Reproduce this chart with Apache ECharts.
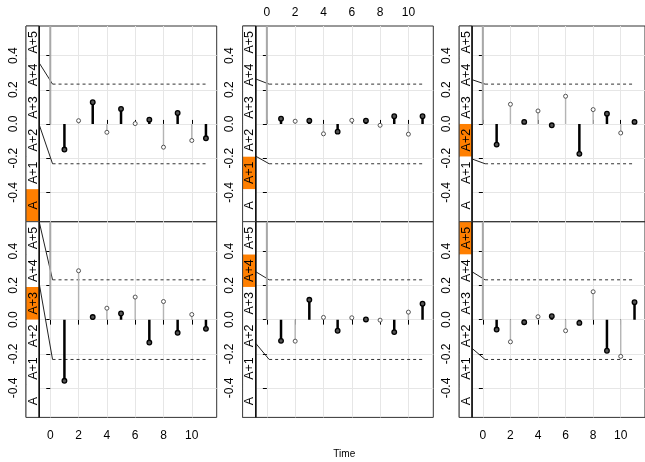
<!DOCTYPE html>
<html><head><meta charset="utf-8">
<script src="https://cdn.jsdelivr.net/npm/echarts@6/dist/echarts.min.js"></script>
<style>html,body{margin:0;padding:0;background:#fff}#c{width:645px;height:462px}</style>
</head><body><div id="c"></div>
<script>
// ---- data ----
const lags = [0,1,2,3,4,5,6,7,8,9,10,11];
const stripLabels = ['A','A+1','A+2','A+3','A+4','A+5'];
const xTickValues = [0,2,4,6,8,10];
const yTickValues = [-0.4,-0.2,0,0.2,0.4];
const acfA  = [1,-0.150,0.019,0.127,-0.049,0.088,0.002,0.025,-0.136,0.064,-0.097,-0.084];
const acfA1 = [1,0.031,0.016,0.019,-0.058,-0.045,0.021,0.019,-0.008,0.045,-0.060,0.045];
const acfA2 = [1,-0.121,0.115,0.012,0.076,-0.008,0.162,-0.175,0.084,0.060,-0.053,0.012];
const acfA3 = [1,-0.358,0.286,0.015,0.067,0.036,0.132,-0.134,0.106,-0.077,0.030,-0.054];
const acfA4 = [1,-0.124,-0.126,0.116,0.013,-0.065,0.011,0.001,-0.003,-0.073,0.044,0.093];
const acfA5 = [1,-0.058,-0.130,-0.015,0.017,0.020,-0.065,-0.019,0.163,-0.182,-0.215,0.102];
const highlighted = [0,1,2,3,4,5];
const bandLimit = 0.233;
const bandStartUpper = [0.357,0.263,0.259,0.573,0.28,0.28];
const bandStartLower = [-0.004,-0.189,-0.205,0.212,-0.139,-0.168];
const axisTitle = 'Time';

// ---- layout ----
const panels = [acfA, acfA1, acfA2, acfA3, acfA4, acfA5];
const Y_MIN = -0.572, Y_MAX = 0.573;
const X_MIN = -1.715, X_MAX = 11.76;
const colLeft = [26, 242.6, 459.2];
const rowTop = [26, 221.7];
const GRID_W = 190.7, GRID_H = 195.7;
const STRIP_PX = 13.2;
const STRIP_R = X_MIN + STRIP_PX * (X_MAX - X_MIN) / GRID_W;
const BAND_BEND = 0.16;
const FONT = 'Liberation Sans, Arial, Helvetica, sans-serif';
const ORANGE = '#ff7f00';

const grids = [], xAxes = [], yAxes = [], series = [];
panels.forEach((vals, i) => {
  const col = i % 3, row = Math.floor(i / 3);
  grids.push({left: colLeft[col], top: rowTop[row], width: GRID_W, height: GRID_H,
    show: true, borderColor: '#333', borderWidth: 1, backgroundColor: 'transparent'});
  const showXLabel = (row === 0 && col === 1) || (row === 1 && col !== 1);
  xAxes.push({type: 'value', gridIndex: i, min: X_MIN, max: X_MAX,
    position: row === 0 ? 'top' : 'bottom',
    axisLine: {show: false},
    axisTick: {show: true, customValues: xTickValues, length: row === 0 ? 4 : 5, lineStyle: {color: '#000'}},
    axisLabel: {show: showXLabel, customValues: xTickValues, margin: row === 0 ? 7 : 12,
      fontSize: 12, fontFamily: FONT, color: '#000'},
    splitLine: {show: true, lineStyle: {color: '#e6e6e6', width: 1}}});
  yAxes.push({type: 'value', gridIndex: i, min: Y_MIN, max: Y_MAX,
    axisLine: {show: false},
    axisTick: {show: true, customValues: yTickValues, length: 4, lineStyle: {color: '#000'}},
    axisLabel: {show: true, customValues: yTickValues, rotate: 90, margin: 6.5,
      fontSize: 12, fontFamily: FONT, color: '#000', formatter: v => v.toFixed(1)},
    splitLine: {show: true, lineStyle: {color: '#e6e6e6', width: 1}}});

  // band lines
  const lastLag = lags[lags.length - 1];
  series.push({type: 'line', xAxisIndex: i, yAxisIndex: i, symbol: 'none', silent: true, z: 3,
    data: [[STRIP_R, bandStartUpper[i]], [BAND_BEND, bandLimit]], lineStyle: {color: '#222', width: 1}});
  series.push({type: 'line', xAxisIndex: i, yAxisIndex: i, symbol: 'none', silent: true, z: 3,
    data: [[BAND_BEND, bandLimit], [lastLag, bandLimit]], lineStyle: {color: '#333', width: 1, type: [3, 3]}});
  series.push({type: 'line', xAxisIndex: i, yAxisIndex: i, symbol: 'none', silent: true, z: 3,
    data: [[STRIP_R, bandStartLower[i]], [BAND_BEND, -bandLimit]], lineStyle: {color: '#222', width: 1}});
  series.push({type: 'line', xAxisIndex: i, yAxisIndex: i, symbol: 'none', silent: true, z: 3,
    data: [[BAND_BEND, -bandLimit], [lastLag, -bandLimit]], lineStyle: {color: '#333', width: 1, type: [3, 3]}});

  // stems
  series.push({type: 'custom', xAxisIndex: i, yAxisIndex: i, silent: true, z: 4, clip: true,
    encode: {x: 0, y: 1},
    data: lags.map((l, j) => [l, vals[j]]),
    renderItem: (params, api) => {
      const lag = api.value(0), v = api.value(1);
      const vc = Math.min(Math.max(v, Y_MIN), Y_MAX);
      const p0 = api.coord([lag, 0]), p1 = api.coord([lag, vc]);
      const odd = lag % 2 === 1;
      const children = [{type: 'line', shape: {x1: p0[0], y1: p0[1], x2: p1[0], y2: p1[1]},
        style: {stroke: odd ? '#000' : (lag === 0 ? '#a8a8a8' : '#b4b4b4'), lineWidth: odd ? 2.5 : (lag === 0 ? 2 : 1.4)}}];
      if (v <= Y_MAX && v >= Y_MIN) {
        children.push({type: 'circle', shape: {cx: p1[0], cy: p1[1], r: odd ? 2.3 : 2},
          style: {fill: odd ? '#555' : '#fff', stroke: odd ? '#000' : '#444', lineWidth: odd ? 1.3 : 0.9}});
      }
      return {type: 'group', children};
    }});

  // strip
  series.push({type: 'custom', xAxisIndex: i, yAxisIndex: i, silent: true, z: 6,
    data: stripLabels.map((s, k) => [k]),
    renderItem: (params, api) => {
      const k = params.dataIndex;
      const span = (Y_MAX - Y_MIN) / stripLabels.length;
      const y0 = Y_MIN + k * span, y1 = y0 + span;
      const a = api.coord([X_MIN, y1]), b = api.coord([STRIP_R, y0]);
      const children = [
        {type: 'rect', shape: {x: a[0], y: a[1], width: b[0] - a[0], height: b[1] - a[1]},
          style: {fill: k === highlighted[i] ? ORANGE : '#fff', stroke: null}},
        {type: 'text', x: (a[0] + b[0]) / 2 + 0.8, y: (a[1] + b[1]) / 2, rotation: Math.PI / 2,
          style: {text: stripLabels[k], fontSize: 12.5, fontFamily: FONT, fill: '#000', align: 'center', verticalAlign: 'middle'}}
      ];
      if (k === stripLabels.length - 1) {
        const lo = api.coord([X_MIN, Y_MIN]), hi = api.coord([STRIP_R, Y_MAX]);
        children.push({type: 'rect', shape: {x: lo[0], y: hi[1], width: hi[0] - lo[0], height: lo[1] - hi[1]},
          style: {fill: null, stroke: '#444', lineWidth: 1}});
        children.push({type: 'line', shape: {x1: hi[0], y1: hi[1], x2: hi[0], y2: lo[1]},
          style: {stroke: '#111', lineWidth: 1.6}});
      }
      return {type: 'group', children};
    }});
});

const chart = echarts.init(document.getElementById('c'), null, {renderer: 'canvas'});
chart.setOption({
  animation: false,
  backgroundColor: '#fff',
  grid: grids, xAxis: xAxes, yAxis: yAxes, series,
  graphic: [{type: 'text', x: 344.3, y: 454, silent: true,
    style: {text: axisTitle, fontSize: 10, fontFamily: FONT, fill: '#000', align: 'center', verticalAlign: 'middle'}}]
});
</script></body></html>
